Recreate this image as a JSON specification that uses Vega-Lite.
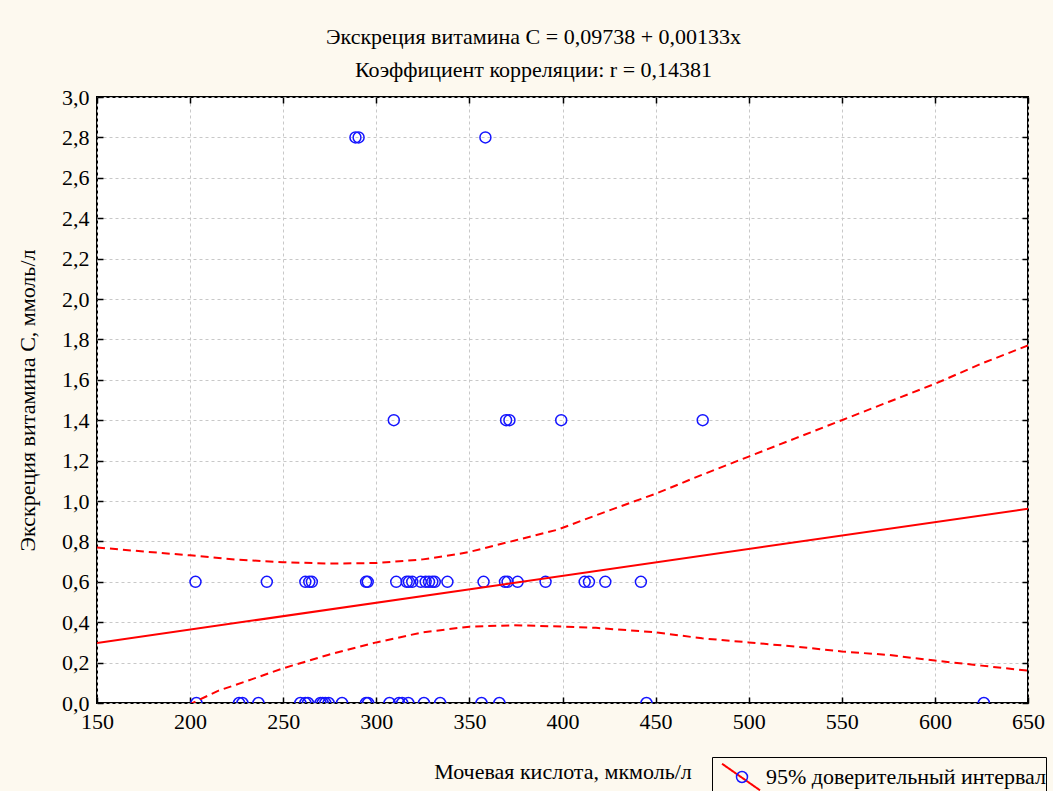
{
  "$schema": "https://vega.github.io/schema/vega-lite/v6.json",
  "width": 931,
  "height": 606,
  "autosize": {"type": "none"},
  "padding": {"left": 97, "top": 97, "right": 25, "bottom": 88},
  "background": "#fdf9ef",
  "view": {"fill": "white", "stroke": "black", "strokeWidth": 2},
  "title": {
    "text": "Экскреция витамина C = 0,09738 + 0,00133x",
    "subtitle": "Коэффициент корреляции: r = 0,14381",
    "font": "Liberation Serif",
    "fontSize": 22,
    "fontWeight": "normal",
    "color": "black",
    "subtitleFont": "Liberation Serif",
    "subtitleFontSize": 22,
    "subtitleColor": "black",
    "subtitlePadding": 11,
    "offset": 4,
    "anchor": "middle",
    "dx": -29
  },
  "datasets": {
    "pts": [
      {"x": 288.8, "y": 2.8}, {"x": 290.5, "y": 2.8}, {"x": 358.6, "y": 2.8},
      {"x": 309.4, "y": 1.4}, {"x": 369.7, "y": 1.4}, {"x": 371.5, "y": 1.4}, {"x": 399.3, "y": 1.4}, {"x": 475.3, "y": 1.4},
      {"x": 202.9, "y": 0.6}, {"x": 241.2, "y": 0.6}, {"x": 261.9, "y": 0.6}, {"x": 264.0, "y": 0.6}, {"x": 265.4, "y": 0.6},
      {"x": 294.5, "y": 0.6}, {"x": 295.4, "y": 0.6}, {"x": 310.7, "y": 0.6}, {"x": 316.3, "y": 0.6}, {"x": 317.5, "y": 0.6},
      {"x": 319.3, "y": 0.6}, {"x": 323.9, "y": 0.6}, {"x": 326.5, "y": 0.6}, {"x": 328.3, "y": 0.6}, {"x": 330.1, "y": 0.6},
      {"x": 331.4, "y": 0.6}, {"x": 338.2, "y": 0.6}, {"x": 357.6, "y": 0.6}, {"x": 369.1, "y": 0.6}, {"x": 370.5, "y": 0.6},
      {"x": 375.9, "y": 0.6}, {"x": 390.9, "y": 0.6}, {"x": 411.9, "y": 0.6}, {"x": 414.2, "y": 0.6}, {"x": 423.0, "y": 0.6},
      {"x": 442.1, "y": 0.6},
      {"x": 203.4, "y": 0}, {"x": 226.3, "y": 0}, {"x": 228.1, "y": 0}, {"x": 236.7, "y": 0}, {"x": 259.2, "y": 0},
      {"x": 261.9, "y": 0}, {"x": 263.3, "y": 0}, {"x": 270.0, "y": 0}, {"x": 271.2, "y": 0}, {"x": 272.6, "y": 0},
      {"x": 274.4, "y": 0}, {"x": 281.6, "y": 0}, {"x": 294.5, "y": 0}, {"x": 295.6, "y": 0}, {"x": 307.1, "y": 0},
      {"x": 312.2, "y": 0}, {"x": 313.9, "y": 0}, {"x": 317.2, "y": 0}, {"x": 325.6, "y": 0}, {"x": 334.3, "y": 0},
      {"x": 356.5, "y": 0}, {"x": 366.1, "y": 0}, {"x": 445.1, "y": 0}, {"x": 626.3, "y": 0}
    ],
    "fit": [
      {"x": 150, "y": 0.2969}, {"x": 650, "y": 0.9619}
    ],
    "band": [
      {"band": "upper", "x": 150, "y": 0.77}, {"band": "upper", "x": 175, "y": 0.75}, {"band": "upper", "x": 200, "y": 0.731},
      {"band": "upper", "x": 225, "y": 0.71}, {"band": "upper", "x": 250, "y": 0.697}, {"band": "upper", "x": 275, "y": 0.69},
      {"band": "upper", "x": 300, "y": 0.693}, {"band": "upper", "x": 325, "y": 0.711}, {"band": "upper", "x": 343, "y": 0.736},
      {"band": "upper", "x": 350, "y": 0.748}, {"band": "upper", "x": 375, "y": 0.806}, {"band": "upper", "x": 397, "y": 0.857},
      {"band": "upper", "x": 425, "y": 0.953}, {"band": "upper", "x": 450, "y": 1.036}, {"band": "upper", "x": 475, "y": 1.13},
      {"band": "upper", "x": 500, "y": 1.22}, {"band": "upper", "x": 525, "y": 1.31}, {"band": "upper", "x": 550, "y": 1.40},
      {"band": "upper", "x": 575, "y": 1.49}, {"band": "upper", "x": 600, "y": 1.58}, {"band": "upper", "x": 625, "y": 1.68},
      {"band": "upper", "x": 650, "y": 1.77},
      {"band": "lower", "x": 199, "y": -0.01}, {"band": "lower", "x": 215, "y": 0.06}, {"band": "lower", "x": 233, "y": 0.117},
      {"band": "lower", "x": 250, "y": 0.172}, {"band": "lower", "x": 274, "y": 0.238}, {"band": "lower", "x": 300, "y": 0.30},
      {"band": "lower", "x": 325, "y": 0.35}, {"band": "lower", "x": 350, "y": 0.378}, {"band": "lower", "x": 374, "y": 0.385},
      {"band": "lower", "x": 400, "y": 0.378}, {"band": "lower", "x": 418, "y": 0.372}, {"band": "lower", "x": 450, "y": 0.35},
      {"band": "lower", "x": 475, "y": 0.32}, {"band": "lower", "x": 500, "y": 0.30}, {"band": "lower", "x": 530, "y": 0.275},
      {"band": "lower", "x": 550, "y": 0.255}, {"band": "lower", "x": 575, "y": 0.238}, {"band": "lower", "x": 600, "y": 0.21},
      {"band": "lower", "x": 625, "y": 0.185}, {"band": "lower", "x": 650, "y": 0.16}
    ]
  },
  "layer": [
    {
      "data": {"name": "pts"},
      "mark": {"type": "point", "filled": false, "stroke": "#1515ff", "strokeWidth": 1.5, "opacity": 1, "size": 120, "clip": true},
      "encoding": {
        "x": {
          "field": "x", "type": "quantitative",
          "scale": {"domain": [150, 650], "nice": false, "zero": false},
          "axis": {
            "orient": "bottom",
            "values": [150, 200, 250, 300, 350, 400, 450, 500, 550, 600, 650],
            "labelFlush": false,
            "title": "Мочевая кислота, мкмоль/л",
            "titlePadding": 29
          }
        },
        "y": {
          "field": "y", "type": "quantitative",
          "scale": {"domain": [0, 3], "nice": false},
          "axis": {
            "orient": "left",
            "values": [0, 0.2, 0.4, 0.6, 0.8, 1.0, 1.2, 1.4, 1.6, 1.8, 2.0, 2.2, 2.4, 2.6, 2.8, 3.0],
            "labelFlush": false,
            "labelExpr": "replace(format(datum.value, '.1f'), '.', ',')",
            "title": "Экскреция витамина C, ммоль/л",
            "titlePadding": 22
          }
        },
        "shape": {
          "datum": "точки",
          "scale": {"range": ["circle"]},
          "legend": {
            "orient": "none", "legendX": 638.5, "legendY": 673.5,
            "title": null,
            "symbolType": "circle",
            "symbolSize": 120,
            "symbolStrokeColor": "#1515ff",
            "symbolFillColor": "transparent",
            "symbolStrokeWidth": 1.5,
            "symbolOpacity": 1,
            "labelOpacity": 0,
            "labelFontSize": 1,
            "labelOffset": 0,
            "padding": 0,
            "strokeColor": "transparent",
            "fillColor": "transparent",
            "zindex": 2
          }
        }
      }
    },
    {
      "data": {"name": "band"},
      "mark": {"type": "line", "strokeDash": [8, 5], "strokeWidth": 2, "clip": true},
      "encoding": {
        "x": {"field": "x", "type": "quantitative", "axis": null},
        "y": {"field": "y", "type": "quantitative", "axis": null},
        "detail": {"field": "band"},
        "stroke": {
          "datum": "95% доверительный интервал",
          "scale": {"range": ["#ff0000"]},
          "legend": {
            "orient": "none", "legendX": 615, "legendY": 660,
            "title": null,
            "symbolType": "M -1 -0.7 L 1 0.7",
            "symbolSize": 1444,
            "symbolOffset": 9,
            "symbolStrokeColor": "#ff0000",
            "symbolStrokeWidth": 2,
            "symbolDash": [1, 0],
            "labelFont": "Liberation Serif", "labelFontSize": 22,
            "labelColor": "black",
            "labelLimit": 500,
            "labelOffset": 5,
            "padding": 0,
            "strokeColor": "black",
            "fillColor": "transparent",
            "zindex": 1
          }
        }
      }
    },
    {
      "data": {"name": "fit"},
      "mark": {"type": "line", "color": "#ff0000", "strokeWidth": 2, "clip": true},
      "encoding": {
        "x": {
          "field": "x", "type": "quantitative",
          "axis": {"orient": "top", "values": [150, 200, 250, 300, 350, 400, 450, 500, 550, 600, 650], "labels": false, "grid": false, "title": null}
        },
        "y": {
          "field": "y", "type": "quantitative",
          "axis": {"orient": "right", "values": [0, 0.2, 0.4, 0.6, 0.8, 1.0, 1.2, 1.4, 1.6, 1.8, 2.0, 2.2, 2.4, 2.6, 2.8, 3.0], "labels": false, "grid": false, "title": null}
        }
      }
    }
  ],
  "resolve": {"axis": {"x": "independent", "y": "independent"}},
  "config": {
    "axis": {
      "domain": false,
      "ticks": true,
      "tickSize": -6,
      "tickColor": "black",
      "tickWidth": 1.5,
      "grid": true,
      "gridColor": "#c8c8c8",
      "gridDash": [3, 3],
      "gridWidth": 1,
      "labelFont": "Liberation Serif",
      "labelFontSize": 22,
      "labelColor": "black",
      "labelPadding": 14,
      "titleFont": "Liberation Serif",
      "titleFontSize": 22,
      "titleFontWeight": "normal",
      "titleColor": "black"
    }
  }
}
